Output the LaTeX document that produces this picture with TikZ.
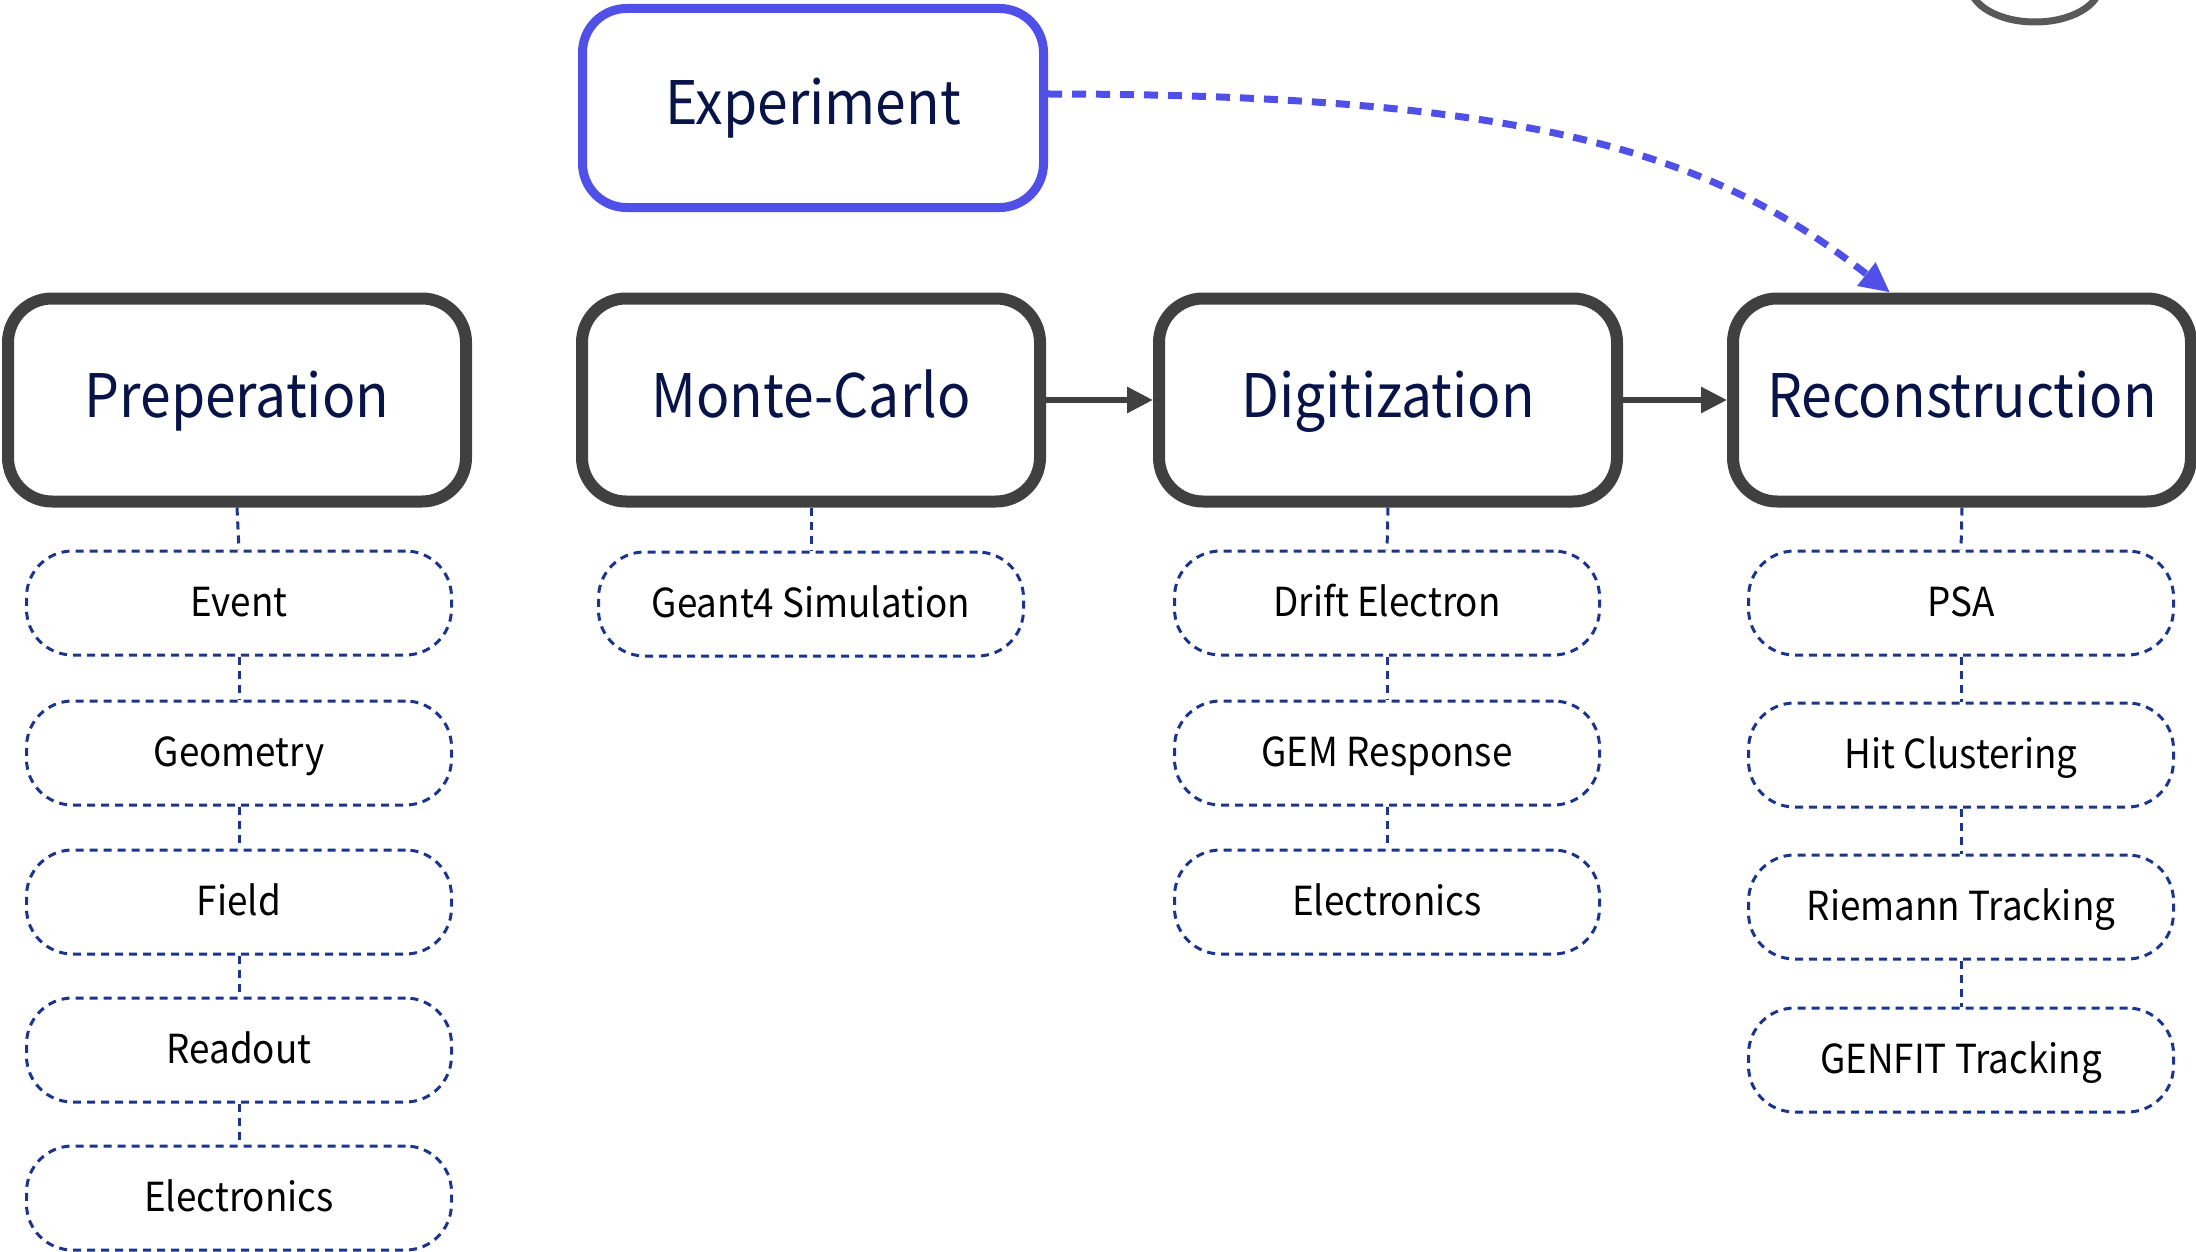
\documentclass[tikz,border=0pt]{standalone}
\usepackage{fontspec}
\setmainfont[FakeStretch=0.92]{Noto Sans CJK KR}
\usetikzlibrary{arrows.meta}
\definecolor{navytext}{RGB}{8,20,72}
\definecolor{boxgray}{RGB}{64,64,64}
\definecolor{expblue}{RGB}{80,80,232}
\definecolor{dashnavy}{RGB}{28,52,140}
\tikzset{
  mainbox/.style={draw=boxgray, line width=6pt, rounded corners=22pt,
    minimum width=229pt, minimum height=101.5pt, inner sep=0pt,
    text=navytext, font=\fontsize{30}{36}\selectfont,
    text height=24pt, text depth=7pt},
  expbox/.style={mainbox, draw=expblue, line width=4.5pt,
    minimum width=230.5pt, minimum height=99.5pt},
  subbox/.style={draw=dashnavy, line width=1.5pt, dash pattern=on 4pt off 3pt,
    rounded corners=23pt, minimum width=212.5pt, minimum height=52pt,
    inner sep=0pt, text=black, font=\fontsize{20}{24}\selectfont,
    text height=17pt, text depth=3.5pt},
  subline/.style={draw=dashnavy, line width=1.5pt, dash pattern=on 4pt off 3pt},
  flowarrow/.style={draw=boxgray, line width=3pt, -{Triangle[length=13pt,width=12.5pt]}},
  exparrow/.style={draw=expblue, line width=3.5pt, dash pattern=on 7pt off 5pt,
    -{Triangle[length=15pt,width=14pt]}},
}
\begin{document}
\begin{tikzpicture}[x=0.5pt, y=-0.5pt]
\useasboundingbox (0,0) rectangle (2196,1252);
% partial circle at top right
\draw[line width=3.5pt, draw=black!65] (2035,-15) ellipse [x radius=65, y radius=37];

\node[expbox] (exp) at (813,108) {Experiment};

\node[mainbox] (prep) at (237,400) {Preperation};
\node[mainbox] (mc)   at (811,400) {Monte-Carlo};
\node[mainbox] (dig)  at (1388,400) {Digitization};
\node[mainbox] (rec)  at (1962,400) {Reconstruction};

% Preparation column
\node[subbox] (p1) at (239,603) {Event};
\node[subbox] (p2) at (239,753) {Geometry};
\node[subbox] (p3) at (239,902) {Field};
\node[subbox] (p4) at (239,1050) {Readout};
\node[subbox] (p5) at (239,1198) {Electronics};
% Monte-Carlo column
\node[subbox] (m1) at (811,604) {Geant4 Simulation};
% Digitization column
\node[subbox] (d1) at (1387,603) {Drift Electron};
\node[subbox] (d2) at (1387,753) {GEM Response};
\node[subbox] (d3) at (1387,902) {Electronics};
% Reconstruction column
\node[subbox] (r1) at (1961,603) {PSA};
\node[subbox] (r2) at (1961,755) {Hit Clustering};
\node[subbox] (r3) at (1961,907) {Riemann Tracking};
\node[subbox] (r4) at (1961,1060) {GENFIT Tracking};

% vertical dashed connectors
\draw[subline] (prep.south) -- (p1.north);
\draw[subline] (p1.south) -- (p2.north);
\draw[subline] (p2.south) -- (p3.north);
\draw[subline] (p3.south) -- (p4.north);
\draw[subline] (p4.south) -- (p5.north);
\draw[subline] (mc.south) -- (m1.north);
\draw[subline] (dig.south) -- (d1.north);
\draw[subline] (d1.south) -- (d2.north);
\draw[subline] (d2.south) -- (d3.north);
\draw[subline] (rec.south) -- (r1.north);
\draw[subline] (r1.south) -- (r2.north);
\draw[subline] (r2.south) -- (r3.north);
\draw[subline] (r3.south) -- (r4.north);

% flow arrows
\draw[flowarrow] (mc.east) -- (dig.west);
\draw[flowarrow] (dig.east) -- (rec.west);

% experiment arrow
\draw[exparrow] ([yshift=7pt]exp.east) .. controls (1550,94) and (1720,160) .. ([xshift=-36pt]rec.north);
\end{tikzpicture}
\end{document}
